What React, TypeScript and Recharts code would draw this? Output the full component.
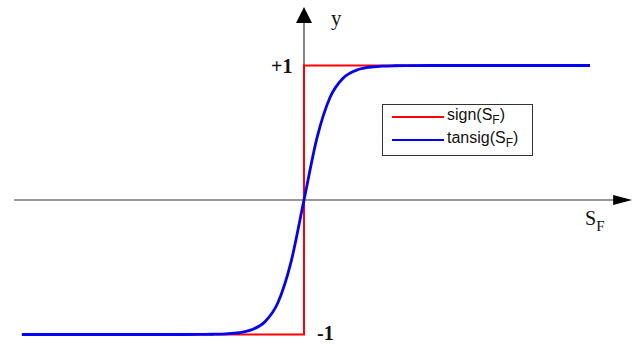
import React from "react";
import {
  LineChart,
  Line,
  XAxis,
  YAxis,
  ReferenceLine,
  ReferenceDot,
  Legend,
} from "recharts";

// S_F sample positions and the smooth tansig response
const sfValues = [-10.85, -6, -5, -4, -3.5, -3, -2.5, -2, -1.5, -1, -0.5, 0, 0.5, 1, 1.5, 2, 2.5, 3, 3.5, 4, 5, 6, 11];
const tansigValues = [-1, -1, -1, -0.999, -0.998, -0.995, -0.987, -0.964, -0.905, -0.762, -0.462, 0, 0.462, 0.762, 0.905, 0.964, 0.987, 0.995, 0.998, 0.999, 1, 1, 1];

// hard limiter: jumps from -1 to +1 at the origin
const signX = [-10.85, 0, 0, 11];
const signY = [-1, -1, 1, 1];

const seriesNames = ["sign", "tansig"];
const seriesColors = ["#ff0000", "#0000ff"];

const tansigData = sfValues.map((x, i) => ({ x, y: tansigValues[i] }));
const signData = signX.map((x, i) => ({ x, y: signY[i] }));

const W = 640;
const H = 344;
const AXIS = "#333333";
const serif = "'Liberation Serif', 'DejaVu Serif', serif";

// arrow head pointing right (x axis) or up (y axis)
function ArrowRight(props: any) {
  const { cx, cy } = props;
  return <polygon points={`${cx},${cy} ${cx - 19},${cy - 5} ${cx - 19},${cy + 5}`} fill="#000" />;
}
function ArrowUp(props: any) {
  const { cx, cy } = props;
  return <polygon points={`${cx},${cy} ${cx - 8},${cy + 16} ${cx + 8},${cy + 16}`} fill="#000" />;
}

function TickText({ cx, cy, text, dx, dy }: any) {
  return (
    <text x={cx + dx} y={cy + dy} fontFamily={serif} fontWeight="bold" fontSize={20} fill="#111">
      {text}
    </text>
  );
}

function LegendBox({ payload }: any) {
  return (
    <div
      style={{
        width: 149,
        height: 50,
        border: "1px solid #333",
        background: "#fff",
        fontFamily: "'Liberation Sans', Arial, sans-serif",
        fontSize: 16,
        color: "#111",
        position: "relative",
      }}
    >
      {(payload || []).map((p: any, i: number) => (
        <div key={p.value} style={{ position: "absolute", left: 9, top: 3 + i * 23, height: 18, display: "flex", alignItems: "center" }}>
          <svg width={54} height={18}>
            <line x1={0} y1={9} x2={52} y2={9} stroke={p.color} strokeWidth={2} />
          </svg>
          <span style={{ marginLeft: 1 }}>
            {p.value}(S<sub style={{ fontSize: 12 }}>F</sub>)
          </span>
        </div>
      ))}
    </div>
  );
}

export default function App() {
  return (
    <div style={{ position: "absolute", left: 0, top: 0, width: W, height: H, background: "#fff" }}>
      <LineChart width={W} height={H} margin={{ top: 0, right: 0, bottom: 0, left: 0 }}>
        <XAxis type="number" dataKey="x" domain={[-11.692, 12.923]} hide allowDataOverflow />
        <YAxis type="number" dataKey="y" domain={[-1.0706, 1.487]} hide allowDataOverflow />

        {/* coordinate axes */}
        <ReferenceLine segment={[{ x: -11.15, y: 0 }, { x: 12.0, y: 0 }]} stroke={AXIS} strokeWidth={1.2} />
        <ReferenceLine segment={[{ x: 0, y: 1.33 }, { x: 0, y: -1 }]} stroke={AXIS} strokeWidth={1.2} />
        <ReferenceDot x={12.62} y={0} r={0} shape={<ArrowRight />} />
        <ReferenceDot x={0.0} y={1.435} r={0} shape={<ArrowUp />} />

        <ReferenceDot x={0} y={1} r={0} shape={(p: any) => <TickText {...p} text="+1" dx={-33} dy={7} />} />
        <ReferenceDot x={0} y={-1} r={0} shape={(p: any) => <TickText {...p} text="-1" dx={13} dy={5} />} />
        <ReferenceDot
          x={0}
          y={1.33}
          r={0}
          shape={(p: any) => (
            <text x={p.cx + 27} y={p.cy + 4} fontFamily={serif} fontSize={21} fill="#111">y</text>
          )}
        />
        <ReferenceDot
          x={11.0}
          y={0}
          r={0}
          shape={(p: any) => (
            <text x={p.cx - 5} y={p.cy + 25} fontFamily={serif} fontSize={20} fill="#111">
              S<tspan fontSize={15} dy={6}>F</tspan>
            </text>
          )}
        />

        <Line
          data={signData}
          dataKey="y"
          name={seriesNames[0]}
          type="linear"
          stroke={seriesColors[0]}
          strokeWidth={2}
          dot={false}
          activeDot={false}
          isAnimationActive={false}
        />
        <Line
          data={tansigData}
          dataKey="y"
          name={seriesNames[1]}
          type="monotone"
          stroke={seriesColors[1]}
          strokeWidth={2.8}
          dot={false}
          activeDot={false}
          isAnimationActive={false}
        />

        <Legend
          layout="horizontal"
          verticalAlign="middle"
          align="center"
          content={<LegendBox />}
          wrapperStyle={{ left: 382, top: 104, width: 151, height: 52 }}
        />
      </LineChart>
    </div>
  );
}
